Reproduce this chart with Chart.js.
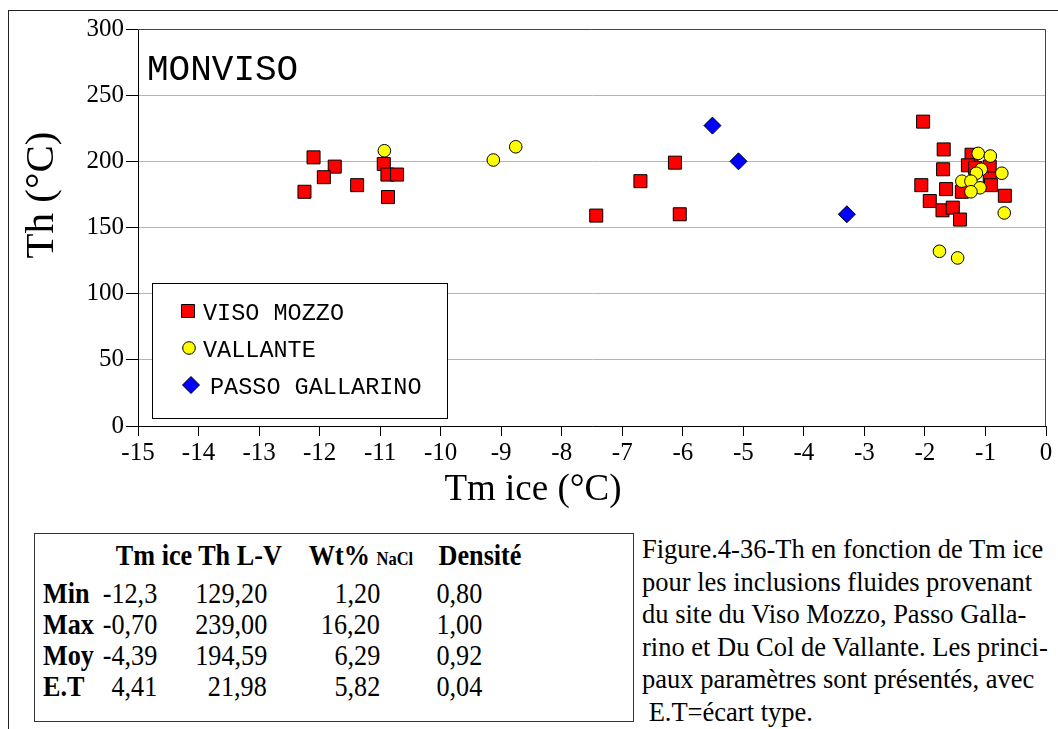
<!DOCTYPE html>
<html lang="fr">
<head>
<meta charset="utf-8">
<title>Monviso - Th en fonction de Tm ice</title>
<script src="https://cdn.jsdelivr.net/npm/chart.js@4.4.1/dist/chart.umd.min.js"></script>
<style>
    html, body { margin: 0; padding: 0; background: #fff; }
    body { width: 1058px; height: 729px; position: relative; overflow: hidden; font-family: "Liberation Serif", "Times New Roman", serif; color: #000; }
    #frame { position: absolute; left: 8px; top: 10px; right: -2px; bottom: -2px; border-left: 1px solid #222; border-top: 1px solid #222; }
    #chart-wrap { position: absolute; left: 0; top: 0; width: 1058px; height: 520px; }
    #stats { position: absolute; left: 34px; top: 533px; width: 600px; height: 189px; border: 1px solid #333; box-sizing: border-box; }
    .cell { position: absolute; line-height: 1; white-space: nowrap; transform: scale(0.97, 1.12); transform-origin: 50% 84%; }
    .bold { font-weight: bold; }
    .small { font-size: 17px; }
    #caption { position: absolute; left: 642px; top: 533px; font-size: 26.5px; line-height: 32.5px; white-space: pre; }
</style>
</head>
<body>
<div id="frame"></div>
<div id="chart-wrap"><canvas id="thChart" width="1058" height="520"></canvas></div>
<div id="stats"></div>
<div id="caption"></div>

<script>
/***************************************************************
 * DONNÉES
 ***************************************************************/
// VISO MOZZO (carrés rouges)
const visoMozzoTm = [-12.10, -11.75, -11.93, -12.25, -11.38, -10.94, -10.88, -10.72, -10.87,
                     -6.13, -6.70, -7.43, -6.05,
                     -2.03, -1.69, -1.23, -1.29, -1.17, -0.93, -1.70, -0.93, -0.91, -2.06,
                     -1.65, -1.39, -0.68, -1.92, -1.71, -1.54, -1.42];
const visoMozzoTh = [203, 196, 188, 177, 182, 198, 190, 190, 173,
                     199, 185, 159, 160,
                     230, 209, 205, 197, 195, 196, 194, 187, 182, 182,
                     179, 177, 174, 170, 163, 165, 156];

// VALLANTE (cercles jaunes)
const vallanteTm = [-10.93, -9.13, -8.76, -1.12, -0.92, -1.07, -1.15, -0.73, -1.39, -1.24,
                    -1.09, -1.24, -0.69, -1.76, -1.46];
const vallanteTh = [208, 201, 211, 206, 204, 194, 191, 191, 185, 185,
                    180, 177, 161, 132, 127];

// PASSO GALLARINO (losanges bleus)
const gallarinoTm = [-5.51, -5.08, -3.29];
const gallarinoTh = [227, 200, 160];

const seriesLabels = ["VISO MOZZO", "VALLANTE", "PASSO GALLARINO"];

// Tableau des paramètres
const statHeaders = ["Tm ice", "Th L-V", "Wt%", "Densité"];
const statRows = ["Min", "Max", "Moy", "E.T"];
const statTmIce = ["-12,3", "-0,70", "-4,39", "4,41"];
const statThLV = ["129,20", "239,00", "194,59", "21,98"];
const statWt = ["1,20", "16,20", "6,29", "5,82"];
const statDensite = ["0,80", "1,00", "0,92", "0,04"];

const captionLines = [
    "Figure.4-36-Th en fonction de Tm ice",
    "pour les inclusions fluides provenant",
    "du site du Viso Mozzo, Passo Galla-",
    "rino et Du Col de Vallante. Les princi-",
    "paux paramètres sont présentés, avec",
    " E.T=écart type."
];

/***************************************************************
 * OUTILS
 ***************************************************************/
function toPoints(xs, ys) {
    return xs.map((x, i) => ({ x: x, y: ys[i] }));
}

/***************************************************************
 * PLUGIN : cadre, titre, légende, titres d'axes
 ***************************************************************/
const decorPlugin = {
    id: "decor",
    afterDatasetsDraw(chart) {
        const ctx = chart.ctx;
        const a = chart.chartArea;
        ctx.save();

        // cadre haut + droit du graphique
        ctx.strokeStyle = "#444";
        ctx.lineWidth = 1;
        ctx.beginPath();
        ctx.moveTo(a.left, Math.round(a.top) + 0.5);
        ctx.lineTo(Math.round(a.right) - 0.5, Math.round(a.top) + 0.5);
        ctx.lineTo(Math.round(a.right) - 0.5, a.bottom);
        ctx.stroke();

        // titre MONVISO
        ctx.fillStyle = "#000";
        ctx.font = '36px "Liberation Mono"';
        ctx.textAlign = "left";
        ctx.textBaseline = "middle";
        ctx.fillText("MONVISO", 147, 70);

        // légende
        ctx.fillStyle = "#fff";
        ctx.fillRect(152.5, 283.5, 295, 135);
        ctx.strokeStyle = "#000";
        ctx.strokeRect(152.5, 283.5, 295, 135);

        const marks = [[188, 311], [189, 348], [191, 385]];
        const textX = [203, 203, 210];
        const textY = [314, 351, 388];
        ctx.font = '23.5px "Liberation Mono"';
        chart.data.datasets.forEach((ds, i) => {
            ctx.fillStyle = ds.backgroundColor;
            ctx.strokeStyle = ds.borderColor;
            ctx.lineWidth = ds.borderWidth;
            Chart.helpers.drawPoint(ctx, {
                pointStyle: ds.pointStyle,
                radius: ds.pointRadius,
                rotation: 0,
                borderWidth: ds.borderWidth
            }, marks[i][0], marks[i][1]);
            ctx.fillStyle = "#000";
            ctx.fillText(ds.label, textX[i], textY[i]);
        });

        // titres d'axes
        ctx.textAlign = "center";
        ctx.font = '37px "Liberation Serif"';
        ctx.fillText("Tm ice (°C)", 533, 490);
        ctx.translate(42, 195);
        ctx.rotate(-Math.PI / 2);
        ctx.font = '41px "Liberation Serif"';
        ctx.fillText("Th (°C)", 0, 0);

        ctx.restore();
    }
};

/***************************************************************
 * GRAPHIQUE
 ***************************************************************/
Chart.defaults.color = "#000";
Chart.defaults.font.family = '"Liberation Serif", "Times New Roman", serif';

const thChart = new Chart(document.getElementById("thChart"), {
    type: "scatter",
    data: {
        datasets: [
            {
                label: seriesLabels[0],
                data: toPoints(visoMozzoTm, visoMozzoTh),
                pointStyle: "rect",
                pointRadius: 9.2,
                backgroundColor: "#ff0000",
                borderColor: "#000",
                borderWidth: 1,
                order: 2
            },
            {
                label: seriesLabels[1],
                data: toPoints(vallanteTm, vallanteTh),
                pointStyle: "circle",
                pointRadius: 6.3,
                backgroundColor: "#ffff00",
                borderColor: "#000",
                borderWidth: 1,
                order: 1
            },
            {
                label: seriesLabels[2],
                data: toPoints(gallarinoTm, gallarinoTh),
                pointStyle: "rectRot",
                pointRadius: 8.5,
                backgroundColor: "#0000ff",
                borderColor: "#000",
                borderWidth: 1,
                order: 0
            }
        ]
    },
    options: {
        responsive: false,
        animation: false,
        devicePixelRatio: 1,
        layout: { padding: { left: 0, top: 29, right: 12, bottom: 34 } },
        plugins: {
            legend: { display: false },
            tooltip: { enabled: false }
        },
        scales: {
            x: {
                type: "linear",
                min: -15,
                max: 0,
                afterFit: s => { s.height = 60; },
                border: { color: "#000", width: 1 },
                grid: { drawOnChartArea: false, drawTicks: true, tickLength: 10, tickColor: "#000" },
                ticks: { stepSize: 1, autoSkip: false, maxRotation: 0, padding: 2, font: { size: 25 } }
            },
            y: {
                type: "linear",
                min: 0,
                max: 300,
                afterFit: s => { s.width = 138; },
                border: { color: "#000", width: 1 },
                grid: { color: "#b5b5b5", lineWidth: 1, drawTicks: true, tickLength: 12, tickColor: "#000" },
                ticks: { stepSize: 50, padding: 2, font: { size: 25 } }
            }
        }
    },
    plugins: [decorPlugin]
});

/***************************************************************
 * TABLEAU DES PARAMÈTRES
 ***************************************************************/
function addCell(parent, text, left, baseline, size, opts) {
    const el = document.createElement("div");
    el.className = "cell" + (opts.bold ? " bold" : "");
    el.style.fontSize = size + "px";
    el.style.top = (baseline - 0.8375 * size) + "px";
    if (opts.align === "right") {
        el.style.right = (598 - left) + "px";
        el.style.transformOrigin = "100% 84%";
    } else if (opts.align === "center") {
        el.style.left = (left - 150) + "px";
        el.style.width = "300px";
        el.style.textAlign = "center";
    } else {
        el.style.left = left + "px";
        el.style.transformOrigin = "0 84%";
    }
    el.innerHTML = text;
    parent.appendChild(el);
}

function buildTable() {
    const box = document.getElementById("stats");
    const ox = 35, oy = 534;              // origine de la boîte
    const headCenters = [154, 240, 361, 480];
    const valueRights = [157, 267, 380, 482];
    const rowBase = [604, 635, 666, 697];

    statHeaders.forEach((h, i) => {
        const txt = h === "Wt%" ? 'Wt% <span class="small">NaCl</span>' : h;
        addCell(box, txt, headCenters[i] - ox, 566 - oy, 27, { bold: true, align: "center" });
    });

    const cols = [statTmIce, statThLV, statWt, statDensite];
    statRows.forEach((r, j) => {
        addCell(box, r, 43 - ox, rowBase[j] - oy, 27, { bold: true });
        cols.forEach((col, i) => {
            addCell(box, col[j], valueRights[i] - ox, rowBase[j] - oy, 27, { align: "right" });
        });
    });
}

function buildCaption() {
    document.getElementById("caption").textContent = captionLines.join("\n");
}

buildTable();
buildCaption();
</script>
</body>
</html>
